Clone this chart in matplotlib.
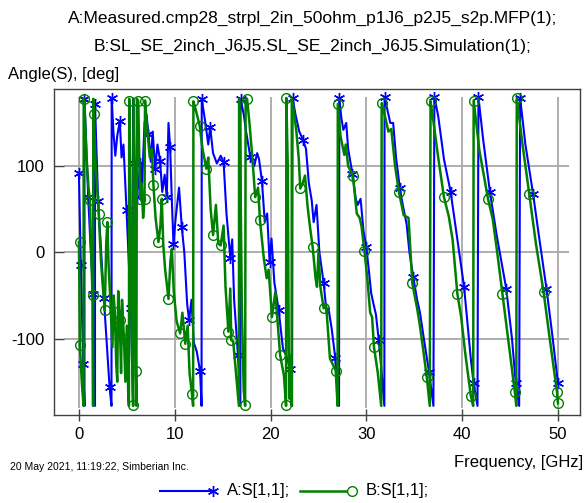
import matplotlib
matplotlib.use("Agg")
import matplotlib.pyplot as plt
from matplotlib.lines import Line2D

plt.rcParams['font.family'] = ['Liberation Sans', 'DejaVu Sans']

title_a = "A:Measured.cmp28_strpl_2in_50ohm_p1J6_p2J5_s2p.MFP(1);"
title_b = "B:SL_SE_2inch_J6J5.SL_SE_2inch_J6J5.Simulation(1);"
y_label = "Angle(S), [deg]"
x_label = "Frequency, [GHz]"
footer = "20 May 2021, 11:19:22, Simberian Inc."
legend_a = "A:S[1,1];"
legend_b = "B:S[1,1];"

x_ticks = [0, 10, 20, 30, 40, 50]
y_ticks = [-100, 0, 100]

# Series A (measured) - line vertices
a_freq = [0.00, 0.10, 0.20, 0.45, 0.58,
          0.58, 0.97, 1.20, 1.49, 1.68,
          1.68, 2.00, 2.30, 2.60, 3.20, 3.40,
          3.42, 3.60, 3.80, 4.00, 4.27, 4.45, 4.65, 4.97, 5.20, 5.42, 5.65,
          5.67, 5.80, 6.05, 6.25, 6.40, 6.60, 6.85, 7.05, 7.26, 7.50, 7.70, 7.95, 8.20, 8.47, 8.70,
          8.95, 9.17, 9.35, 9.52, 9.70, 9.87, 10.10, 10.45, 10.74, 11.00, 11.30, 11.50, 11.75,
          12.00, 12.30, 12.65, 12.80,
          12.82, 13.20, 13.50, 13.70, 14.00, 14.40, 14.80, 15.10, 15.40, 15.80, 16.00, 16.20,
          16.60, 16.85,
          16.87, 17.20, 17.45, 17.90, 18.30, 18.60, 18.80, 19.10, 19.40, 19.65, 19.90, 20.10,
          20.40, 20.85, 21.30, 21.60, 22.05, 22.25,
          22.30, 22.60, 23.00, 23.40, 23.70, 24.00, 24.30, 24.50, 24.80, 25.10, 25.55, 25.85,
          26.05, 26.40, 26.75, 27.15,
          27.18, 27.40, 27.60, 27.90, 28.10, 28.55, 28.90, 29.10, 29.40, 29.70, 30.00, 30.30,
          30.50, 30.75, 31.00, 31.30, 31.60, 31.88,
          31.90, 32.30, 32.50, 32.80, 33.10, 33.50, 33.80, 34.20, 34.50, 34.90, 35.30, 35.60,
          36.00, 36.55, 37.00,
          37.10, 37.50, 38.10, 38.80, 39.50, 40.20, 40.90, 41.20, 41.60,
          41.70, 42.20, 42.90, 43.60, 44.60, 45.20, 45.60, 45.95,
          46.05, 46.60, 47.40, 48.00, 48.80, 49.40, 50.00]
a_angle = [92, 40, -15, -129, -178,
           178, 64, 10, -48, -178,
           172, 60, 5, -53, -156, -178,
           179, 140, 112, 135, 152, 110, 125, 49, -10, -65, -178,
           178, 103, 64, 85, 103, 80, 150, 160, 137, 105, 140, 97, 125, 106, 70,
           90, 64, 150, 122, 60, 10, 40, 75, 29, 0, -60, -79, -55,
           -105, -115, -138, -178,
           178, 150, 125, 145, 115, 103, 112, 105, 45, -6, 15, -55,
           -119, -178,
           178, 160, 140, 110, 100, 115, 108, 83, 35, 45, -11, 16,
           -35, -67, -112, -118, -135, -178,
           179, 160, 140, 130, 120, 80, 60, 35, 55, 0, -36, -70,
           -65, -90, -122, -178,
           179, 155, 142, 150, 120, 91, 62, 55, 62, 25, 6, -25,
           -47, -60, -72, -102, -140, -178,
           180, 160, 150, 150, 110, 74, 55, 33, 0, -29, -55, -70,
           -100, -139, -178,
           180, 158, 108, 70, 15, -40, -123, -152, -178,
           180, 130, 70, 20, -42, -100, -152, -178,
           179, 125, 68, 20, -42, -95, -152]

# Series A marker positions
a_mark_freq = [0.0, 0.2, 0.45, 0.58, 0.97, 1.49, 1.68, 2.0, 2.6, 3.2, 3.42, 4.27, 4.97, 5.42,
               5.8, 6.05, 6.4, 7.26, 7.95, 8.47, 9.17, 9.52, 9.87, 10.74, 11.5, 12.65, 12.82,
               13.7, 15.1, 15.8, 16.6, 16.87, 17.9, 19.1, 19.9, 20.85, 22.05, 22.3, 23.4,
               25.55, 26.75, 27.18, 28.55, 30.0, 31.3, 31.9, 33.5, 34.9, 36.55, 37.1, 38.8,
               40.2, 41.2, 41.7, 42.9, 44.6, 45.6, 46.05, 47.4, 48.8, 50.0]
a_mark_angle = [92, -15, -129, 178, 64, -48, 172, 60, -53, -156, 179, 152, 49, -65,
                103, 64, 103, 137, 97, 106, 64, 122, 10, 29, -79, -138, 178,
                145, 105, -6, -119, 178, 110, 83, -11, -67, -135, 179, 130,
                -36, -122, 179, 91, 6, -102, 180, 74, -29, -139, 180, 70,
                -40, -152, 180, 70, -42, -152, 179, 68, -42, -152]

# Series B (simulation) - line vertices
b_freq = [0.00, 0.05, 0.10, 0.30, 0.48,
          0.50, 0.60, 0.80, 1.00, 1.15, 1.25, 1.42, 1.48,
          1.50, 1.55, 1.75, 2.07, 2.30, 2.50, 2.70, 2.85, 2.97, 3.10, 3.30, 3.50, 3.62, 3.75,
          3.90, 4.00, 4.10, 4.27, 4.40, 4.50, 4.70, 4.85, 5.00, 5.15, 5.22,
          5.25, 5.35, 5.45, 5.55, 5.66,
          5.70, 5.80, 5.94, 6.00,
          6.05, 6.20, 6.30, 6.40, 6.55, 6.70, 6.85, 6.90, 7.10, 7.40, 7.60, 7.78, 8.00, 8.30,
          8.50, 8.65, 8.80, 9.00, 9.35, 9.55, 9.70, 9.90, 10.20, 10.57, 10.80, 11.10, 11.35,
          11.55, 11.80, 11.92,
          11.95, 12.20, 12.60, 12.90, 13.30, 13.50, 13.75, 14.00, 14.30, 14.55, 14.80, 15.10,
          15.30, 15.60, 15.80, 15.90, 16.10, 16.40, 16.70,
          16.72, 16.85, 17.00, 17.20, 17.35,
          17.40, 17.55, 17.80, 18.10, 18.40, 18.70, 18.90, 19.30, 19.60, 19.80, 20.15, 20.50,
          20.80, 21.00, 21.40, 21.62,
          21.65, 21.80, 21.90, 22.00, 22.10, 22.20,
          22.22, 22.40, 22.70, 22.95, 23.10, 23.35, 23.60, 23.85, 24.10, 24.40, 24.70, 24.85,
          25.00, 25.20, 25.55, 25.80, 26.20, 26.80, 27.00,
          27.02, 27.30, 27.70, 27.85, 28.10, 28.60, 29.00, 29.30, 29.50, 29.80, 30.10, 30.40,
          30.60, 30.80, 31.20, 31.55,
          31.60, 31.90, 32.30, 32.60, 33.00, 33.40, 33.90, 34.40, 34.80, 35.30, 35.55, 35.90,
          36.30, 36.62,
          36.70, 36.90, 37.50, 38.10, 38.60, 39.00, 39.50, 39.90, 40.30, 40.90, 41.15,
          41.20, 41.80, 42.70, 43.20, 43.60, 44.20, 44.80, 45.50, 45.65,
          45.70, 46.30, 47.00, 47.70, 48.50, 49.20, 49.90, 50.00]
b_angle = [12, -40, -108, -150, -178,
           178, 165, 110, 75, 61, 10, -50, -178,
           178, 160, 100, 45, -10, -40, -67, 10, 35, -15, -60, -110, -50, -69,
           -130, -150, -45, -79, -140, -55, -100, -150, -85, -165, -178,
           178, 110, -20, -120, -178,
           178, 40, -138, -178,
           178, 175, 110, 62, 80, 40, 62, 176, 147, 110, 120, 78, 40, 12,
           30, 62, 10, -20, -54, -10, 4, -45, -80, -94, -70, -106, -85,
           -140, -164, -178,
           175, 165, 147, 120, 97, 110, 50, 20, 55, 10, 8, 31,
           -40, -92, -42, -102, -103, -140, -178,
           178, 100, -60, -160, -178,
           178, 178, 150, 110, 64, 75, 37, -7, -30, -20, -75, -46,
           -90, -119, -143, -178,
           179, 100, -110, -170, -120, -178,
           178, 166, 140, 108, 74, 80, 89, 55, 31, 6, -30, -40,
           0, -40, -65, -60, -123, -137, -178,
           172, 135, 113, 125, 100, 89, 45, 40, 30, 2, -30, -70,
           -75, -110, -140, -178,
           173, 160, 140, 143, 100, 70, 43, 40, -36, -65, -82, -110,
           -144, -178,
           175, 160, 110, 64, 42, 15, -48, -75, -115, -166, -178,
           176, 118, 62, 38, 5, -48, -100, -162, -178,
           179, 125, 68, 10, -46, -105, -162, -175]

# Series B marker positions
b_mark_freq = [0.1, 0.1, 0.55, 1.15, 1.42, 1.55, 2.07, 2.7, 2.97, 3.75, 4.27, 4.7, 5.25, 5.66,
               5.94, 6.2, 6.4, 6.9, 6.9, 7.78, 8.3, 8.65, 9.35, 10.57, 11.1, 11.8, 11.95,
               12.6, 13.3, 14.0, 14.8, 15.6, 15.9, 17.37, 17.55, 18.4, 18.9, 20.15, 21.0,
               21.65, 21.62, 23.1, 24.4, 25.55, 26.8, 27.02, 28.6, 29.8, 30.8, 31.6, 33.4,
               34.8, 36.3, 36.7, 38.1, 39.5, 40.9, 41.2, 42.7, 44.2, 45.5, 45.7, 47.0, 48.5,
               49.9, 50.0]
b_mark_angle = [12, -108, 178, 61, -50, 160, 45, -67, 35, -69, -79, -100, 175, -177,
                -138, 175, 62, 176, 62, 78, 12, 62, -54, -94, -106, -164, 175,
                147, 97, 20, 8, -92, -102, -177, 178, 64, 37, -75, -119,
                179, -177, 74, 6, -65, -137, 172, 89, 2, -110, 173, 70,
                -36, -144, 175, 64, -48, -166, 176, 62, -48, -162, 179, 68, -46,
                -162, -175]

BLUE = '#0000ff'
GREEN = '#008000'
GRID = '#a8a8a8'
STAR = (6, 2, 0)

fig = plt.figure(figsize=(5.85, 5.03), dpi=100)
W, H = 585.0, 503.0
ax = fig.add_axes([54 / W, 1 - 414.5 / H, (580 - 54) / W, (414.5 - 89.3) / H])
ax.set_xlim(-2.6, 52.3)
ax.set_ylim(-188, 189)

# grid limited to data range
ax.vlines(x_ticks, -180, 180, colors=GRID, linewidth=1.3, zorder=1)
ax.hlines(y_ticks, -1.6, 51.2, colors=GRID, linewidth=1.3, zorder=1)

ax.plot(a_freq, a_angle, color=BLUE, lw=1.5, zorder=3)
ax.plot(a_mark_freq, a_mark_angle, linestyle='none', marker=STAR, ms=8,
        mec=BLUE, mew=1.0, color=BLUE, zorder=4)
ax.plot(b_freq, b_angle, color=GREEN, lw=1.8, zorder=5)
ax.plot(b_mark_freq, b_mark_angle, linestyle='none', marker='o', ms=7,
        mfc='none', mec=GREEN, mew=1.0, zorder=6)

ax.set_xticks(x_ticks)
ax.set_yticks(y_ticks)
ax.set_xticklabels([str(v) for v in x_ticks])
ax.set_yticklabels([str(v) for v in y_ticks])
ax.tick_params(axis='x', direction='inout', length=8, width=1, color='#404040',
               labelsize=12, pad=5)
ax.tick_params(axis='y', direction='in', length=7, width=1, color='#404040',
               labelsize=12, pad=7)
for s in ax.spines.values():
    s.set_color('#404040')
    s.set_linewidth(1.0)

fig.text(312.5 / W, 1 - 18 / H, title_a, ha='center', va='center', fontsize=12.5)
fig.text(312.5 / W, 1 - 46 / H, title_b, ha='center', va='center', fontsize=12.5)
fig.text(8 / W, 1 - 75 / H, y_label, ha='left', va='center', fontsize=12)
fig.text(583 / W, 1 - 463 / H, x_label, ha='right', va='center', fontsize=12)
fig.text(10 / W, 1 - 467 / H, footer, ha='left', va='center', fontsize=7.5)

# legend drawn below plot
ly = 1 - 491 / H
fig.add_artist(Line2D([160 / W, 213 / W], [ly, ly], transform=fig.transFigure,
                      color=BLUE, lw=1.5))
fig.add_artist(Line2D([213 / W], [ly], transform=fig.transFigure, marker=STAR,
                      ms=8, mec=BLUE, mew=1.0, linestyle='none'))
fig.text(227 / W, ly, legend_a, ha='left', va='center', fontsize=12)
fig.add_artist(Line2D([300 / W, 352 / W], [ly, ly], transform=fig.transFigure,
                      color=GREEN, lw=1.8))
fig.add_artist(Line2D([352 / W], [ly], transform=fig.transFigure, marker='o',
                      ms=7, mfc='white', mec=GREEN, mew=1.0, linestyle='none'))
fig.text(366 / W, ly, legend_b, ha='left', va='center', fontsize=12)

fig.savefig('out.png', dpi=100)
